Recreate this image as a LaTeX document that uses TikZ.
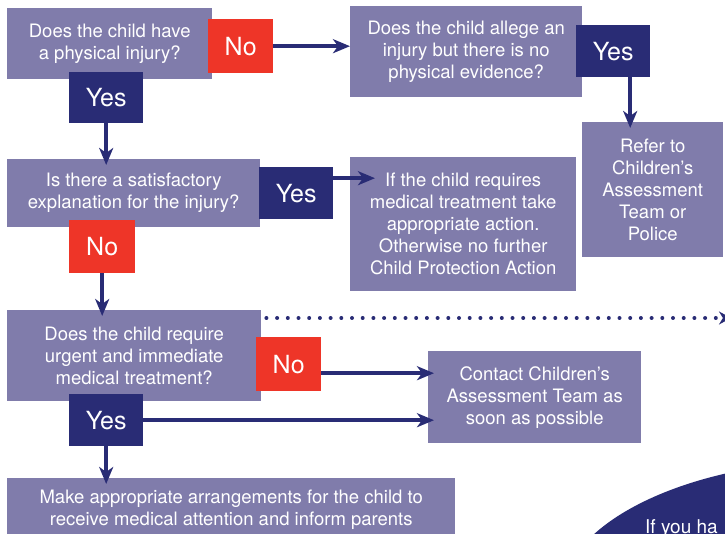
\documentclass[tikz,border=0pt]{standalone}
\usepackage{fontspec}
\setmainfont{TeX Gyre Heros}
\usepackage{tikz}
\usetikzlibrary{arrows.meta}
\usetikzlibrary{positioning}
\definecolor{boxlilac}{RGB}{128,124,171}
\definecolor{labelnavy}{RGB}{41,44,117}
\definecolor{labelred}{RGB}{238,53,40}
\tikzset{
    flow box/.style={
        fill=boxlilac,
        text=white,
        align=center,
        inner sep=0pt,
        anchor=north west,
        font=\fontsize{18.5}{22}\selectfont
    },
    answer/.style={
        text=white,
        inner sep=0pt,
        anchor=north west,
        minimum height=52pt,
        font=\fontsize{25}{30}\selectfont
    },
    yes answer/.style={answer, fill=labelnavy, minimum width=74pt},
    no answer/.style={answer, fill=labelred, minimum width=65pt},
    flow arrow/.style={
        draw=labelnavy,
        line width=4pt,
        -{Stealth[length=17pt,width=14pt,inset=5pt]},
        shorten >=-6pt
    }
}
\begin{document}
\begin{tikzpicture}[x=1pt,y=-1pt]
    \useasboundingbox (0,0) rectangle (725,534);
    \clip (0,0) rectangle (725,534);

    \node[flow box, minimum width=205pt, minimum height=71pt] (injury) at (7,8)
        {Does the child have\\ a physical injury?};
    \node[flow box, minimum width=232pt, minimum height=91pt] (allege) at (350,6)
        {Does the child allege an\\ injury but there is no\\ physical evidence?};
    \node[flow box, minimum width=141pt, minimum height=135pt] (refer) at (582,122)
        {Refer to\\ Children's\\ Assessment\\ Team or\\ Police};
    \node[flow box, minimum width=253pt, minimum height=68pt] (explain) at (7,159)
        {Is there a satisfactory\\ explanation for the injury?};
    \node[flow box, minimum width=226pt, minimum height=134pt] (treat) at (350,157)
        {If the child requires\\ medical treatment take\\ appropriate action.\\ Otherwise no further\\ Child Protection Action};
    \node[flow box, minimum width=254pt, minimum height=91pt] (urgent) at (7,310)
        {Does the child require\\ urgent and immediate\\ medical treatment?};
    \node[flow box, minimum width=213pt, minimum height=92pt] (contact) at (428,351)
        {Contact Children's\\ Assessment Team as\\ soon as possible};
    \node[flow box, minimum width=448pt, minimum height=64pt] (arrange) at (7,478)
        {Make appropriate arrangements for the child to\\ receive medical attention and inform parents};

    \node[no answer, minimum height=54pt] (no1) at (208,19) {No};
    \node[yes answer, minimum height=51pt] (yes1) at (69,72) {Yes};
    \node[yes answer] (yes2) at (576,25) {Yes};
    \node[yes answer] (yes3) at (259,167) {Yes};
    \node[no answer, minimum width=66pt, minimum height=53pt] (no2) at (69,220) {No};
    \node[no answer, minimum height=54pt] (no3) at (256,337) {No};
    \node[yes answer] (yes4) at (69,394) {Yes};

    \draw[flow arrow, shorten >=0pt] (no1.east) -- (no1.east -| allege.west);
    \foreach \s/\t in {yes1/explain,no2/urgent,yes4/arrange}
      \draw[flow arrow] (\s.south) -- (\s.south |- \t.north);
    \draw[flow arrow] ([xshift=17pt]yes2.south) -- ([xshift=17pt]yes2.south |- refer.north);
    \draw[flow arrow, shorten >=-25pt] ([yshift=15pt]yes3.east) -- ([yshift=15pt]yes3.east -| treat.west);
    \draw[flow arrow] ([yshift=-9pt]no3.east) -- ([yshift=-9pt]no3.east -| contact.west);
    \draw[flow arrow] (yes4.east) -- (yes4.east -| contact.west);

    \coordinate (offpage) at (731,318);
    \draw[labelnavy, line width=4pt, line cap=round, dash pattern=on 0pt off 10.7pt,
          -{Stealth[length=12pt,width=13pt]}]
        ([xshift=5pt,yshift=-8pt]urgent.north east) -- (offpage);

    \fill[labelnavy] (850,600) ellipse [x radius=290pt, y radius=140pt];
    \node[text=white, anchor=base west, inner sep=0pt, font=\fontsize{19}{22}\selectfont]
        (ifyou) at (645,533) {If you ha};
\end{tikzpicture}
\end{document}
